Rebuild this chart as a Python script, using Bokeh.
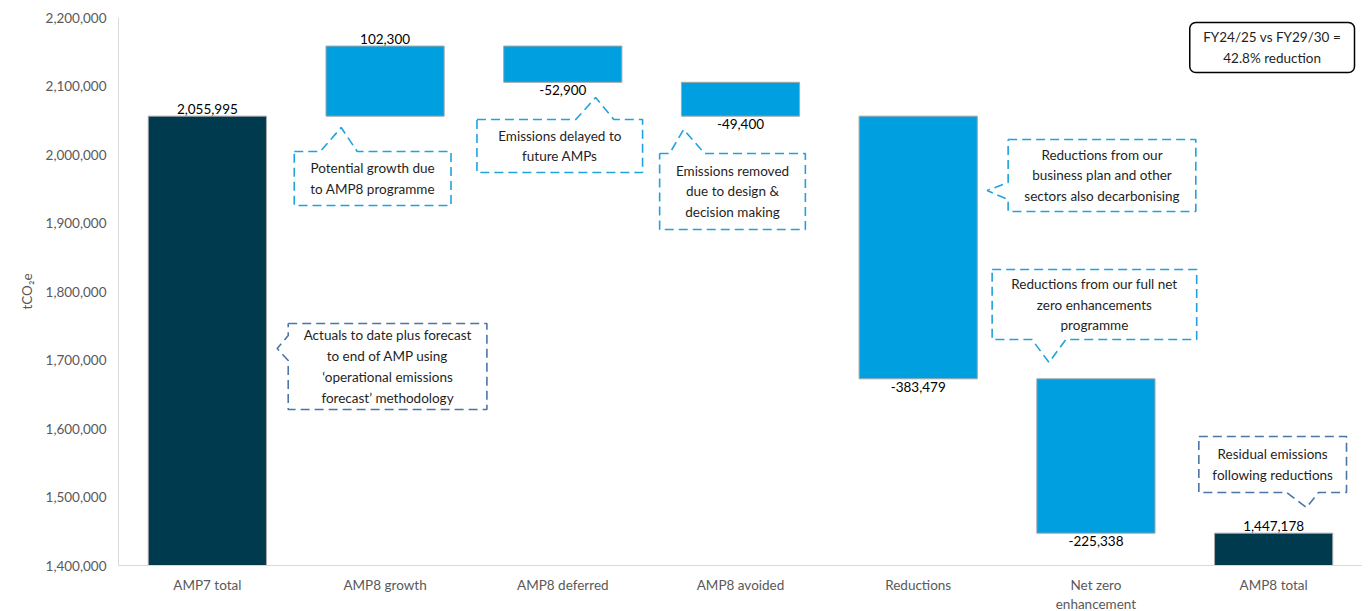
from bokeh.plotting import figure
from bokeh.models import Range1d, FixedTicker, NumeralTickFormatter, ColumnDataSource, BoxAnnotation
from bokeh.core.properties import value
from bokeh.embed import file_html
from bokeh.resources import INLINE

# ---------------- data ----------------
categories = ["AMP7 total", "AMP8 growth", "AMP8 deferred", "AMP8 avoided",
              "Reductions", "Net zero\nenhancement", "AMP8 total"]
amp7_total = 2055995
step_values = [102300, -52900, -49400, -383479, -225338]
amp8_total = 1447178
y_ticks = [1400000, 1500000, 1600000, 1700000, 1800000, 1900000, 2000000, 2100000, 2200000]
y_min, y_max = 1400000, 2200000
headline = "FY24/25 vs FY29/30 =\n42.8% reduction"

# ---------------- styles ----------------
FONT = "Lato"
DARK = "#003A4F"
LIGHT = "#009FDF"
EDGE = "#A6A6A6"
AXIS_GREY = "#D9D9D9"
LABEL_GREY = "#595959"
CALLOUT_LIGHT = "#1FA2DD"
CALLOUT_STEEL = "#4A76A8"
TEXT = "#1F1F1F"

# ---------------- waterfall geometry ----------------
xs = [i + 0.5 for i in range(len(categories))]
bottoms, tops, colors, labels, label_y, label_pos = [], [], [], [], [], []
bottoms.append(y_min); tops.append(amp7_total); colors.append(DARK)
labels.append(f"{amp7_total:,}"); label_y.append(amp7_total); label_pos.append("above")
running = amp7_total
for v in step_values:
    new = running + v
    bottoms.append(min(running, new)); tops.append(max(running, new)); colors.append(LIGHT)
    labels.append(f"{v:,}")
    if v >= 0:
        label_y.append(max(running, new)); label_pos.append("above")
    else:
        label_y.append(min(running, new)); label_pos.append("below")
    running = new
bottoms.append(y_min); tops.append(amp8_total); colors.append(DARK)
labels.append(f"{amp8_total:,}"); label_y.append(amp8_total); label_pos.append("above")

p = figure(frame_width=1244, frame_height=548, output_backend="svg", toolbar_location=None,
           x_range=Range1d(0, len(categories)), y_range=Range1d(y_min, y_max),
           min_border_left=118, min_border_right=0, min_border_top=17, min_border_bottom=38)
p.outline_line_color = None
p.xgrid.visible = False
p.ygrid.visible = False
p.background_fill_color = "white"

bar_src = ColumnDataSource(dict(x=xs, top=tops, bottom=bottoms, color=colors))
p.vbar(x="x", top="top", bottom="bottom", width=0.665, fill_color="color",
       line_color=EDGE, line_width=1, source=bar_src)

above = ColumnDataSource(dict(x=[x for x, s in zip(xs, label_pos) if s == "above"],
                              y=[y for y, s in zip(label_y, label_pos) if s == "above"],
                              t=[t for t, s in zip(labels, label_pos) if s == "above"]))
below = ColumnDataSource(dict(x=[x for x, s in zip(xs, label_pos) if s == "below"],
                              y=[y for y, s in zip(label_y, label_pos) if s == "below"],
                              t=[t for t, s in zip(labels, label_pos) if s == "below"]))
p.text(x="x", y="y", text="t", source=above, text_align="center", text_baseline="bottom",
       y_offset=-2, text_font=value(FONT), text_font_size="13.5px", text_color="black")
p.text(x="x", y="y", text="t", source=below, text_align="center", text_baseline="top",
       y_offset=3, text_font=value(FONT), text_font_size="13.5px", text_color="black")

# ---------------- axes ----------------
p.xaxis.ticker = FixedTicker(ticks=xs)
p.xaxis.major_label_overrides = {x: c for x, c in zip(xs, categories)}
p.yaxis.ticker = FixedTicker(ticks=y_ticks)
p.yaxis.formatter = NumeralTickFormatter(format="0,0")
for ax in (p.xaxis[0], p.yaxis[0]):
    ax.axis_line_color = AXIS_GREY
    ax.axis_line_width = 1
    ax.major_tick_line_color = None
    ax.minor_tick_line_color = None
    ax.major_label_text_font = FONT
    ax.major_label_text_font_size = "13.5px"
    ax.major_label_text_color = LABEL_GREY
p.xaxis.major_label_standoff = 5
p.yaxis.major_label_standoff = 6
p.yaxis.axis_label = "tCO\u2082e"
p.yaxis.axis_label_text_font = FONT
p.yaxis.axis_label_text_font_size = "13.5px"
p.yaxis.axis_label_text_font_style = "normal"
p.yaxis.axis_label_text_color = LABEL_GREY
p.yaxis.axis_label_standoff = 8

# ---------------- callouts (layout in data units) ----------------
def callout(L, R, T, B, side, a, tip_x, tip_y, b):
    if side == "top":
        px = [L, a, tip_x, b, R, R, L, L]
        py = [T, T, tip_y, T, T, B, B, T]
    elif side == "bottom":
        px = [L, R, R, b, tip_x, a, L, L]
        py = [T, T, B, B, tip_y, B, B, T]
    else:  # left
        px = [L, R, R, L, L, tip_x, L, L]
        py = [T, T, B, B, b, tip_y, a, T]
    return px, py

callouts = [
    # (box L, R, T, B, side, a, tip_x, tip_y, b, colour, text)
    (0.955, 2.073, 1753300, 1627700, "left", 1735800, 0.893, 1716800, 1699300, CALLOUT_STEEL,
     "Actuals to date plus forecast\nto end of AMP using\n\u2018operational emissions\nforecast\u2019 methodology"),
    (0.989, 1.871, 2004400, 1925500, "top", 1.135, 1.253, 2039400, 1.343, CALLOUT_LIGHT,
     "Potential growth due\nto AMP8 programme"),
    (2.017, 2.949, 2051100, 1973700, "top", 2.573, 2.685, 2083200, 2.787, CALLOUT_LIGHT,
     "Emissions delayed to\nfuture AMPs"),
    (3.045, 3.865, 2001500, 1890500, "top", 3.101, 3.180, 2036500, 3.298, CALLOUT_LIGHT,
     "Emissions removed\ndue to design &\ndecision making"),
    (5.006, 6.062, 2021900, 1916800, "left", 1959100, 4.888, 1947400, 1934300, CALLOUT_LIGHT,
     "Reductions from our\nbusiness plan and other\nsectors also decarbonising"),
    (4.916, 6.067, 1832100, 1729900, "bottom", 5.140, 5.236, 1696400, 5.331, CALLOUT_LIGHT,
     "Reductions from our full net\nzero enhancements\nprogramme"),
    (6.079, 6.910, 1588300, 1506600, "bottom", 6.573, 6.685, 1484700, 6.753, CALLOUT_STEEL,
     "Residual emissions\nfollowing reductions"),
]
for (L, R, T, B, side, a, tx, ty, b, col, txt) in callouts:
    px, py = callout(L, R, T, B, side, a, tx, ty, b)
    p.line(px, py, line_color=col, line_width=1.6, line_dash="9 5")
    p.text(x=[(L + R) / 2], y=[(T + B) / 2], text=[txt], text_align="center",
           text_baseline="middle", text_font=value(FONT), text_font_size="13.5px",
           text_color=TEXT, text_line_height=1.3)

box = BoxAnnotation(left=6.028, right=6.955, top=2192700, bottom=2119700,
                    fill_color=None, fill_alpha=0, line_color="black", line_alpha=1.0,
                    line_width=1.5, border_radius=6)
p.add_layout(box)
p.text(x=[(6.028 + 6.955) / 2], y=[(2192700 + 2119700) / 2], text=[headline],
       text_align="center", text_baseline="middle", text_font=value(FONT),
       text_font_size="13.5px", text_color=TEXT, text_line_height=1.3)

open("out.html", "w").write(file_html(p, INLINE))
